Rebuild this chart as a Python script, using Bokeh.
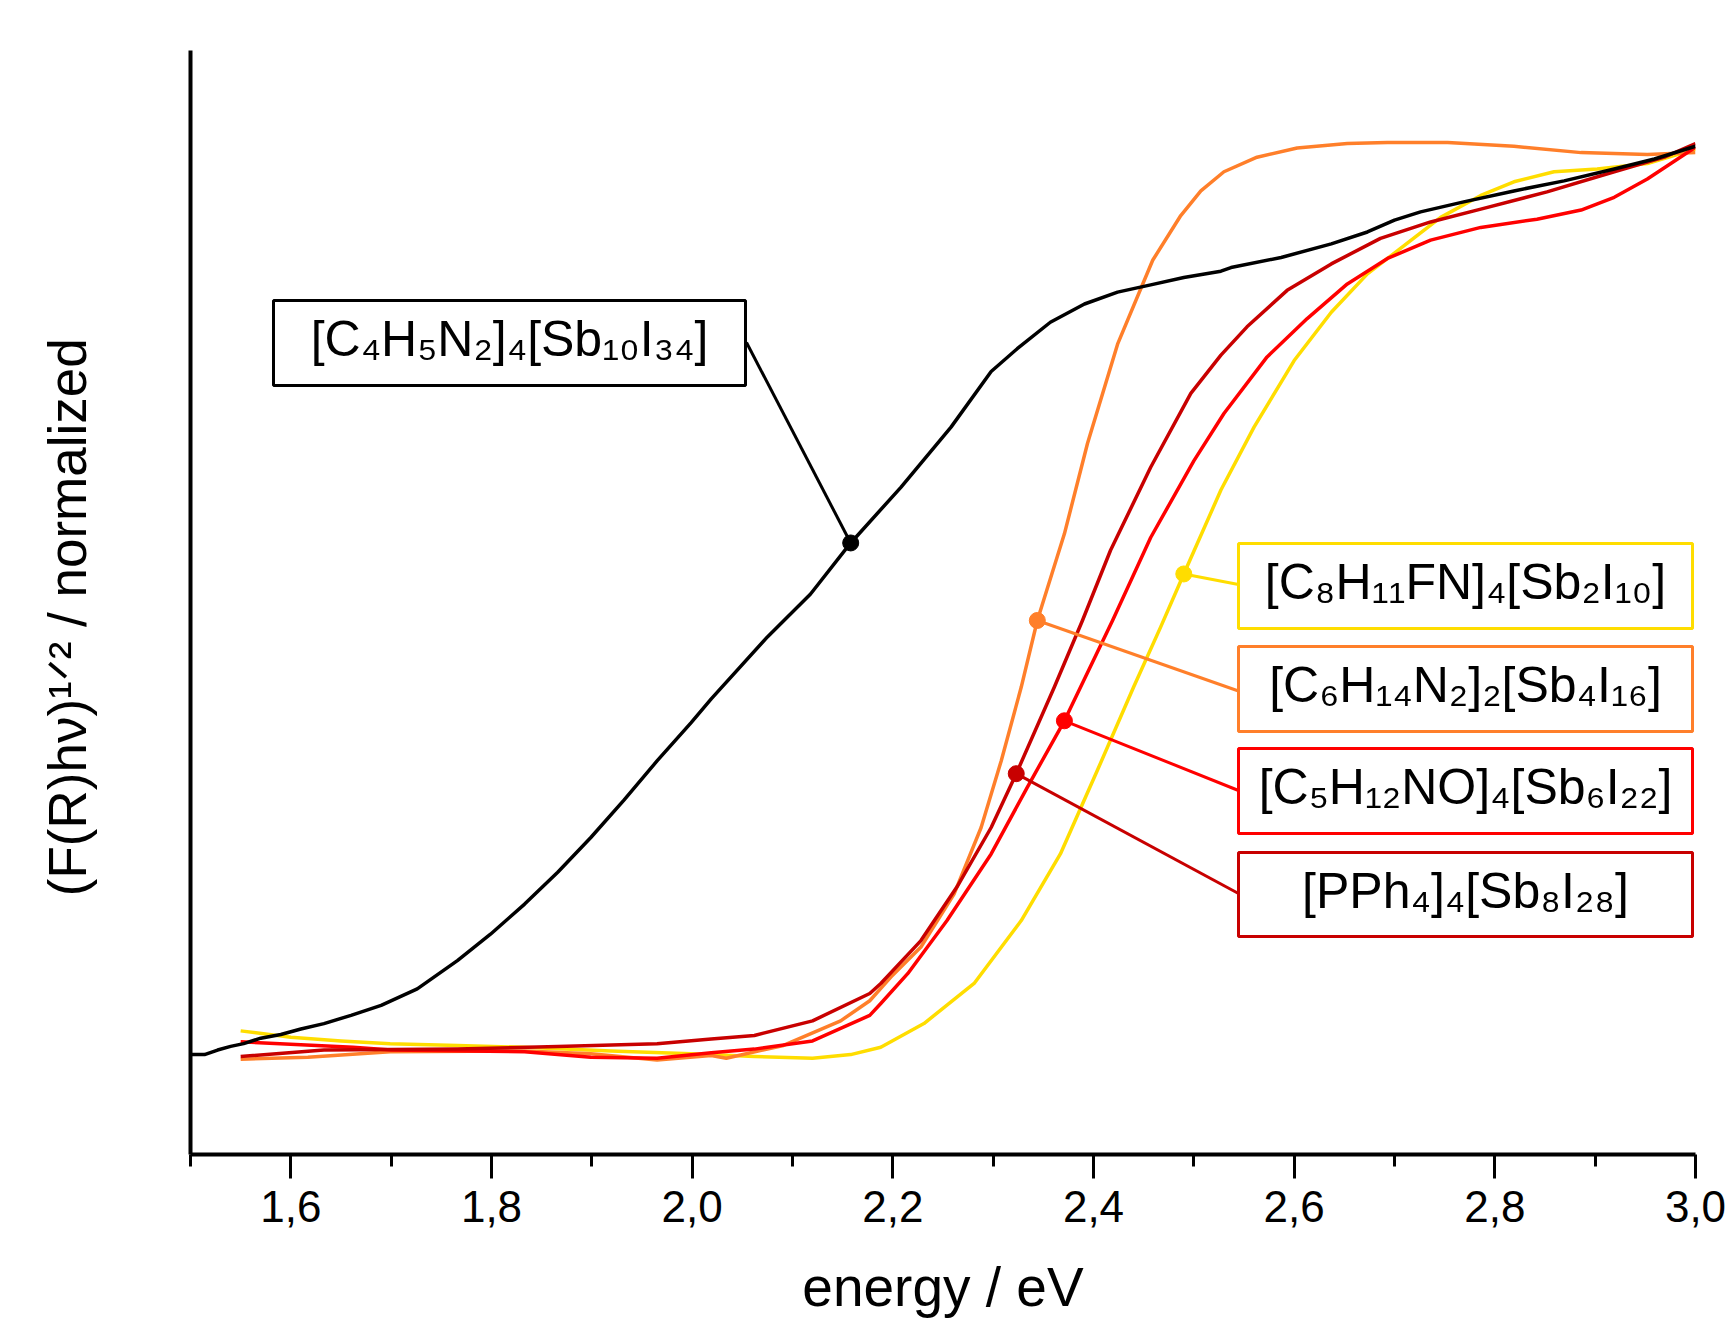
import numpy as np
from bokeh.plotting import figure
from bokeh.models import Range1d, FixedTicker
from bokeh.core.properties import value
from bokeh.embed import file_html
from bokeh.resources import INLINE

# ---------------- data ----------------
E_BLACK = [1.500, 1.514, 1.527, 1.540, 1.553, 1.570, 1.590, 1.610, 1.633, 1.660,
           1.690, 1.726, 1.766, 1.799, 1.833, 1.866, 1.899, 1.932, 1.965, 1.999,
           2.019, 2.075, 2.118, 2.158, 2.208, 2.258, 2.298, 2.324, 2.357, 2.391,
           2.424, 2.457, 2.490, 2.527, 2.537, 2.587, 2.637, 2.673, 2.700, 2.726,
           2.769, 2.819, 2.869, 2.919, 2.959, 3.000]
Y_BLACK = [0.001, 0.001, 0.006, 0.010, 0.013, 0.019, 0.023, 0.029, 0.035, 0.044,
           0.055, 0.073, 0.104, 0.133, 0.166, 0.201, 0.239, 0.280, 0.323, 0.365,
           0.391, 0.459, 0.506, 0.562, 0.623, 0.689, 0.750, 0.775, 0.804, 0.824,
           0.837, 0.845, 0.853, 0.860, 0.864, 0.875, 0.890, 0.903, 0.916, 0.925,
           0.936, 0.948, 0.959, 0.972, 0.983, 0.997]

E_YELLOW = [1.550, 1.600, 1.650, 1.699, 1.766, 1.833, 1.919, 1.999, 2.062, 2.120,
            2.158, 2.188, 2.231, 2.281, 2.328, 2.367, 2.404, 2.440, 2.467, 2.490,
            2.527, 2.560, 2.600, 2.637, 2.673, 2.706, 2.746, 2.786, 2.819, 2.859,
            2.902, 2.952, 3.000]
Y_YELLOW = [0.027, 0.020, 0.016, 0.013, 0.011, 0.009, 0.005, 0.002, -0.001, -0.003,
            0.001, 0.009, 0.035, 0.079, 0.148, 0.221, 0.313, 0.404, 0.470, 0.528,
            0.620, 0.689, 0.762, 0.815, 0.857, 0.885, 0.919, 0.943, 0.958, 0.969,
            0.972, 0.978, 0.994]

E_ORANGE = [1.550, 1.617, 1.699, 1.833, 1.899, 1.965, 2.019, 2.034, 2.091, 2.148,
            2.177, 2.198, 2.228, 2.261, 2.288, 2.308, 2.328, 2.344, 2.371, 2.394,
            2.424, 2.459, 2.487, 2.507, 2.530, 2.563, 2.603, 2.653, 2.693, 2.753,
            2.819, 2.886, 2.952, 3.000]
Y_ORANGE = [-0.004, -0.002, 0.004, 0.005, 0.002, -0.005, 0.000, -0.003, 0.011, 0.038,
            0.060, 0.086, 0.119, 0.177, 0.250, 0.323, 0.404, 0.477, 0.572, 0.671,
            0.780, 0.872, 0.921, 0.948, 0.969, 0.985, 0.995, 1.000, 1.001, 1.001,
            0.997, 0.990, 0.988, 0.990]

E_RED = [1.550, 1.662, 1.700, 1.776, 1.833, 1.899, 1.965, 2.019, 2.062, 2.120,
         2.177, 2.188, 2.215, 2.254, 2.298, 2.334, 2.371, 2.419, 2.457, 2.500,
         2.530, 2.573, 2.613, 2.653, 2.693, 2.736, 2.786, 2.842, 2.886, 2.919,
         2.952, 3.000]
Y_RED = [0.015, 0.009, 0.006, 0.005, 0.004, -0.002, -0.003, 0.003, 0.007, 0.016,
         0.044, 0.057, 0.090, 0.148, 0.221, 0.294, 0.367, 0.477, 0.568, 0.652,
         0.704, 0.766, 0.808, 0.846, 0.874, 0.894, 0.908, 0.917, 0.927, 0.941,
         0.961, 0.996]

E_DARKRED = [1.550, 1.633, 1.766, 1.866, 1.965, 2.019, 2.062, 2.120, 2.177, 2.188,
             2.228, 2.264, 2.298, 2.323, 2.361, 2.389, 2.417, 2.457, 2.497, 2.527,
             2.553, 2.593, 2.637, 2.686, 2.736, 2.786, 2.852, 2.919, 2.969, 3.000]
Y_DARKRED = [-0.001, 0.006, 0.007, 0.010, 0.013, 0.018, 0.022, 0.038, 0.068, 0.079,
             0.126, 0.185, 0.250, 0.309, 0.404, 0.477, 0.554, 0.645, 0.726, 0.768,
             0.799, 0.839, 0.868, 0.896, 0.914, 0.928, 0.947, 0.969, 0.985, 1.000]

NAMES = ["[C₄H₅N₂]₄[Sb₁₀I₃₄]",
         "[C₈H₁₁FN]₄[Sb₂I₁₀]",
         "[C₆H₁₄N₂]₂[Sb₄I₁₆]",
         "[C₅H₁₂NO]₄[Sb₆I₂₂]",
         "[PPh₄]₄[Sb₈I₂₈]"]
COLORS = ["#000000", "#FFDD00", "#FF7F2A", "#FF0000", "#C80000"]
MARKER_E = [2.158, 2.490, 2.344, 2.371, 2.323]   # where each callout touches its curve

TICK_VALUES = [1.6, 1.8, 2.0, 2.2, 2.4, 2.6, 2.8, 3.0]
TICK_LABELS = ["1,6", "1,8", "2,0", "2,2", "2,4", "2,6", "2,8", "3,0"]
MINOR_TICKS = [1.5, 1.7, 1.9, 2.1, 2.3, 2.5, 2.7, 2.9]

X_TITLE = "energy / eV"
Y_TITLE = "(F(R)hν)¹ᐟ² / normalized"

SERIES_E = [E_BLACK, E_YELLOW, E_ORANGE, E_RED, E_DARKRED]
SERIES_Y = [Y_BLACK, Y_YELLOW, Y_ORANGE, Y_RED, Y_DARKRED]

# ---------------- layout ----------------
FONT = "Liberation Sans"
W, H = 1729, 1321
FL, FR, FT, FB = 190, 1695, 50, 1154          # frame edges in canvas px
XMIN, XMAX = 1.5, 3.0
YMIN, YMAX = (1055 - FB) / 912.0, (1055 - FT) / 912.0


def ex(cx):
    return XMIN + (cx - FL) * (XMAX - XMIN) / (FR - FL)


def vy(cy):
    return YMIN + (FB - cy) * (YMAX - YMIN) / (FB - FT)


p = figure(width=W, height=H, x_range=Range1d(XMIN, XMAX), y_range=Range1d(YMIN, YMAX),
           output_backend="svg", toolbar_location=None,
           min_border_left=FL, min_border_right=W - FR,
           min_border_top=FT, min_border_bottom=H - FB)
p.outline_line_color = None
p.xgrid.visible = False
p.ygrid.visible = False
p.background_fill_color = "white"
p.border_fill_color = "white"

xa = p.xaxis[0]
xa.ticker = FixedTicker(ticks=TICK_VALUES, minor_ticks=MINOR_TICKS)
xa.major_label_overrides = dict(zip(TICK_VALUES, TICK_LABELS))
xa.axis_line_width = 4
xa.axis_line_color = "black"
xa.major_tick_line_width = 3
xa.minor_tick_line_width = 3
xa.major_tick_in = 0
xa.major_tick_out = 24
xa.minor_tick_in = 0
xa.minor_tick_out = 12
xa.major_label_text_font = FONT
xa.major_label_text_font_size = "44px"
xa.major_label_text_color = "black"
xa.major_label_standoff = 12
xa.axis_label = X_TITLE
xa.axis_label_text_font = FONT
xa.axis_label_text_font_size = "55px"
xa.axis_label_text_font_style = "normal"
xa.axis_label_text_color = "black"
xa.axis_label_standoff = 31

ya = p.yaxis[0]
ya.ticker = FixedTicker(ticks=[])
ya.axis_line_width = 4
ya.axis_line_color = "black"
ya.major_tick_line_color = None
ya.minor_tick_line_color = None
ya.major_tick_out = 0
ya.major_label_standoff = 0
ya.major_label_text_font_size = "0px"
ya.axis_label = Y_TITLE + "\u00a0\u00a0"
ya.axis_label_text_font = FONT
ya.axis_label_text_font_size = "53px"
ya.axis_label_text_font_style = "normal"
ya.axis_label_text_color = "black"
ya.axis_label_standoff = 94

# curves
order = [1, 2, 3, 4, 0]
for i in order:
    p.line(SERIES_E[i], SERIES_Y[i], line_color=COLORS[i], line_width=3.5, line_join="round")

# callout boxes, in canvas px
BOXES = [(273, 745, 300, 385),
         (1238, 1692, 543, 628),
         (1238, 1692, 646, 731),
         (1238, 1692, 748, 833),
         (1238, 1692, 852, 936)]
ANCHORS = [(746, 342), (1238, 584), (1238, 690.5), (1238, 790), (1238, 893)]

for i in range(5):
    me = MARKER_E[i]
    my = float(np.interp(me, SERIES_E[i], SERIES_Y[i]))
    ax, ay = ANCHORS[i]
    p.line([ex(ax), me], [vy(ay), my], line_color=COLORS[i], line_width=3)
    p.scatter([me], [my], size=16, color=COLORS[i])

for i in range(5):
    l, r, t, b = BOXES[i]
    p.quad(left=[ex(l)], right=[ex(r)], top=[vy(t)], bottom=[vy(b)],
           fill_color="white", line_color=COLORS[i], line_width=3)
    cx = (l + r) / 2
    mid = (t + b) / 2 - 4
    p.text(x=[ex(cx)], y=[vy(mid)], text=[NAMES[i]], text_font=value(FONT),
           text_font_size="50px", text_align="center", text_baseline="middle",
           text_color="black")

open("out.html", "w").write(file_html(p, INLINE))
